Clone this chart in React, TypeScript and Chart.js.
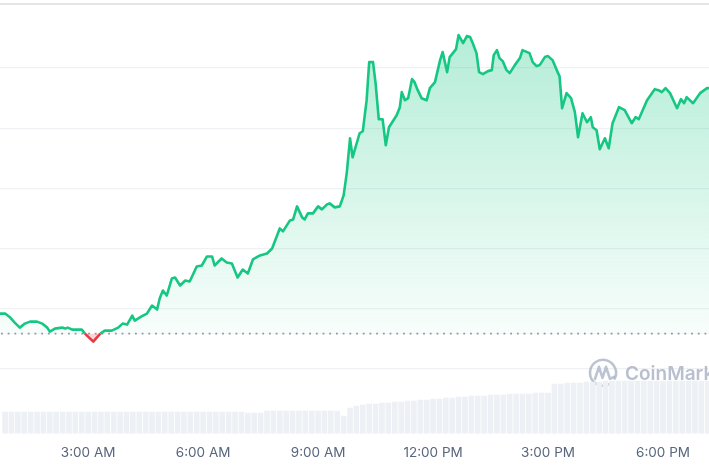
import { useEffect, useRef } from "react";
import { Chart, registerables } from "chart.js";

Chart.register(...registerables);

// Time in minutes since midnight, price in USD
const priceTimes = [
  42, 50, 58, 65, 73, 81, 89, 100, 108, 116,
  120, 128, 139, 144, 148, 155, 170, 175, 188, 199,
  206, 217, 227, 234, 241, 249, 253, 263, 272, 280,
  288, 292, 297, 303, 311, 316, 324, 332, 339, 350,
  358, 366, 374, 378, 389, 397, 405, 414, 422, 430,
  438, 449, 460, 468, 480, 485, 496, 501, 507, 515,
  519, 524, 532, 540, 546, 554, 558, 566, 574, 580,
  585, 590, 594, 605, 610, 616, 620, 626, 630, 635,
  641, 646, 651, 663, 668, 671, 676, 681, 687, 691,
  696, 702, 710, 715, 723, 731, 735, 742, 746, 756,
  760, 767, 773, 778, 782, 788, 792, 798, 806, 812,
  815, 820, 824, 829, 835, 840, 848, 856, 860, 871,
  876, 882, 887, 895, 900, 907, 915, 918, 922, 929,
  936, 942, 947, 954, 961, 967, 970, 976, 981, 989,
  995, 1001, 1011, 1020, 1031, 1037, 1042, 1055, 1067, 1073,
  1078, 1084, 1091, 1102, 1108, 1113, 1117, 1127, 1138, 1149,
  1152,
];

const prices = [
  1055, 1055, 1051, 1046, 1041, 1045, 1047, 1047, 1045, 1041,
  1037, 1040, 1041, 1040, 1041, 1039, 1039, 1035, 1027, 1035,
  1038, 1038, 1041, 1045, 1044, 1053, 1048, 1052, 1055, 1063,
  1059, 1070, 1078, 1073, 1090, 1091, 1083, 1088, 1087, 1102,
  1103, 1112, 1112, 1103, 1110, 1106, 1105, 1091, 1099, 1095,
  1109, 1113, 1115, 1120, 1140, 1137, 1148, 1149, 1162, 1151,
  1149, 1155, 1155, 1162, 1159, 1164, 1165, 1161, 1162, 1173,
  1196, 1230, 1211, 1235, 1237, 1268, 1306, 1306, 1285, 1249,
  1249, 1223, 1241, 1253, 1261, 1276, 1268, 1270, 1289, 1286,
  1278, 1270, 1268, 1280, 1286, 1308, 1316, 1296, 1311, 1319,
  1333, 1325, 1332, 1331, 1325, 1315, 1296, 1294, 1297, 1298,
  1313, 1318, 1310, 1307, 1298, 1295, 1303, 1310, 1318, 1315,
  1306, 1302, 1303, 1311, 1312, 1308, 1296, 1292, 1260, 1275,
  1270, 1256, 1231, 1255, 1246, 1251, 1241, 1238, 1219, 1230,
  1220, 1245, 1261, 1258, 1245, 1251, 1249, 1268, 1279, 1278,
  1276, 1280, 1275, 1260, 1269, 1265, 1271, 1265, 1275, 1280,
  1280,
];

const openPrice = 1035;

// 24h volume (billions USD), one reading every 10 minutes from 00:50
const volumeStart = 50;
const volumeStep = 10;
const volumes = [
  2.2, 2.2, 2.2, 2.2, 2.2, 2.2, 2.2, 2.2, 2.2, 2.2,
  2.2, 2.2, 2.2, 2.2, 2.2, 2.2, 2.2, 2.2, 2.2, 2.2,
  2.2, 2.2, 2.2, 2.2, 2.2, 2.2, 2.2, 2.2, 2.2, 2.2,
  2.2, 2.2, 2.2, 2.2, 2.2, 2.2, 2.2, 2.2, 2.1, 2.1,
  2.1, 2.3, 2.3, 2.3, 2.3, 2.3, 2.3, 2.3, 2.3, 2.3,
  2.3, 2.3, 2.3,
  1.8,
  2.6, 2.8, 2.9, 3.0, 3.0, 3.1, 3.1, 3.2, 3.2, 3.3,
  3.3, 3.4, 3.4, 3.5, 3.5, 3.6, 3.6, 3.7, 3.7, 3.8,
  3.8, 3.8, 3.9, 3.9, 3.9, 4.0, 4.0, 4.0, 4.0, 4.1,
  4.1, 4.1,
  5.0, 5.0, 5.1, 5.1, 5.1, 5.2, 5.2, 5.2, 5.3, 5.3,
  5.3, 5.3, 5.3, 5.3, 5.3, 5.3, 5.3, 5.3, 5.3, 5.3,
  5.3, 5.3, 5.3, 5.3, 5.3,
];

const xTickTimes = [180, 360, 540, 720, 900, 1080];
const xTickLabels = ["3:00 AM", "6:00 AM", "9:00 AM", "12:00 PM", "3:00 PM", "6:00 PM"];
const priceGridTicks = [1000, 1060, 1120, 1180, 1240, 1300, 1364];

const GREEN = "#16c784";
const RED = "#ea3943";

const overlayPlugin = {
  id: "overlay",
  beforeDatasetsDraw(chart: any) {
    const { ctx, chartArea, scales } = chart;
    const yBase = scales.y.getPixelForValue(openPrice);
    ctx.save();
    // watermark
    const cx = chartArea.right - 106;
    const cy = chartArea.bottom - 61;
    ctx.strokeStyle = "rgba(166,176,195,0.75)";
    ctx.lineWidth = 2.6;
    ctx.lineCap = "round";
    ctx.lineJoin = "round";
    ctx.beginPath();
    ctx.arc(cx, cy, 13, 0.3 * Math.PI, 2.15 * Math.PI);
    ctx.stroke();
    ctx.beginPath();
    ctx.moveTo(cx - 8, cy + 6);
    ctx.lineTo(cx - 4, cy - 6);
    ctx.lineTo(cx - 0.5, cy + 5);
    ctx.lineTo(cx + 3, cy - 6);
    ctx.lineTo(cx + 7, cy + 6);
    ctx.lineTo(cx + 11, cy + 4);
    ctx.stroke();
    ctx.fillStyle = "rgba(166,176,195,0.8)";
    ctx.font = "600 19px Inter, 'Noto Sans', sans-serif";
    ctx.textBaseline = "middle";
    ctx.textAlign = "left";
    ctx.fillText("CoinMarketCap", cx + 22, cy + 1);
    // dotted open-price line
    ctx.strokeStyle = "rgba(120,128,145,0.8)";
    ctx.lineWidth = 1.6;
    ctx.lineCap = "butt";
    ctx.setLineDash([1.8, 4.9]);
    ctx.beginPath();
    ctx.moveTo(chartArea.left + 1, yBase);
    ctx.lineTo(chartArea.right, yBase);
    ctx.stroke();
    ctx.restore();
  },
};

export default function App() {
  const canvasRef = useRef<HTMLCanvasElement | null>(null);

  useEffect(() => {
    document.body.style.margin = "0";
    const canvas = canvasRef.current;
    if (!canvas) return;

    const lineData = priceTimes.map((t, i) => ({ x: t, y: prices[i] }));
    const volData = volumes.map((v, i) => ({ x: volumeStart + i * volumeStep, y: v }));

    const chart = new Chart(canvas, {
      data: {
        datasets: [
          {
            type: "line",
            data: lineData,
            yAxisID: "y",
            order: 1,
            borderWidth: 2.6,
            borderColor: GREEN,
            pointRadius: 0,
            tension: 0,
            borderJoinStyle: "round",
            segment: {
              borderColor: (ctx: any) =>
                ctx.p0.parsed.y < openPrice || ctx.p1.parsed.y < openPrice ? RED : GREEN,
            },
            backgroundColor: (ctx: any) => {
              const c = ctx.chart;
              const area = c.chartArea;
              if (!area) return "rgba(22,199,132,0.15)";
              const yBase = c.scales.y.getPixelForValue(openPrice);
              const g = c.ctx.createLinearGradient(0, area.top + 30, 0, yBase);
              g.addColorStop(0, "rgba(22,199,132,0.32)");
              g.addColorStop(1, "rgba(22,199,132,0.03)");
              return g;
            },
            fill: {
              target: { value: openPrice },
              below: "rgba(234,57,67,0.22)",
            },
          } as any,
          {
            type: "bar",
            data: volData,
            yAxisID: "yVol",
            order: 2,
            backgroundColor: "#edf0f4",
            barPercentage: 0.88,
            categoryPercentage: 1,
          } as any,
        ],
      },
      options: {
        responsive: false,
        animation: false,
        layout: { padding: { top: 4, bottom: 1, left: 0, right: 0 } },
        plugins: {
          legend: { display: false },
          tooltip: { enabled: false },
        },
        scales: {
          x: {
            type: "linear",
            min: 42,
            max: 1152,
            offset: false,
            grid: { display: false, drawTicks: false },
            border: { display: false },
            afterBuildTicks: (scale: any) => {
              scale.ticks = xTickTimes.map((v) => ({ value: v }));
            },
            ticks: {
              padding: 11,
              color: "#58667e",
              font: { family: "Inter, 'Noto Sans', sans-serif", size: 13.5 },
              maxRotation: 0,
              autoSkip: false,
              callback: (v: any) => {
                const i = xTickTimes.indexOf(Number(v));
                return i >= 0 ? xTickLabels[i] : "";
              },
            },
          },
          y: {
            type: "linear",
            min: 935,
            max: 1364,
            afterBuildTicks: (scale: any) => {
              scale.ticks = priceGridTicks.map((v) => ({ value: v }));
            },
            ticks: { display: false },
            border: { display: false },
            grid: {
              drawTicks: false,
              color: (ctx: any) =>
                ctx.tick && ctx.tick.value === priceGridTicks[priceGridTicks.length - 1]
                  ? "#e3e5e8"
                  : "#eff1f4",
              lineWidth: (ctx: any) =>
                ctx.tick && ctx.tick.value === priceGridTicks[priceGridTicks.length - 1] ? 2 : 1.3,
            },
          },
          yVol: {
            type: "linear",
            display: false,
            min: 0,
            max: 42.9,
          },
        },
      },
      plugins: [overlayPlugin],
    });

    return () => chart.destroy();
  }, []);

  return (
    <div style={{ width: 709, height: 473, background: "#fff" }}>
      <canvas ref={canvasRef} width={709} height={473} style={{ display: "block" }} />
    </div>
  );
}
